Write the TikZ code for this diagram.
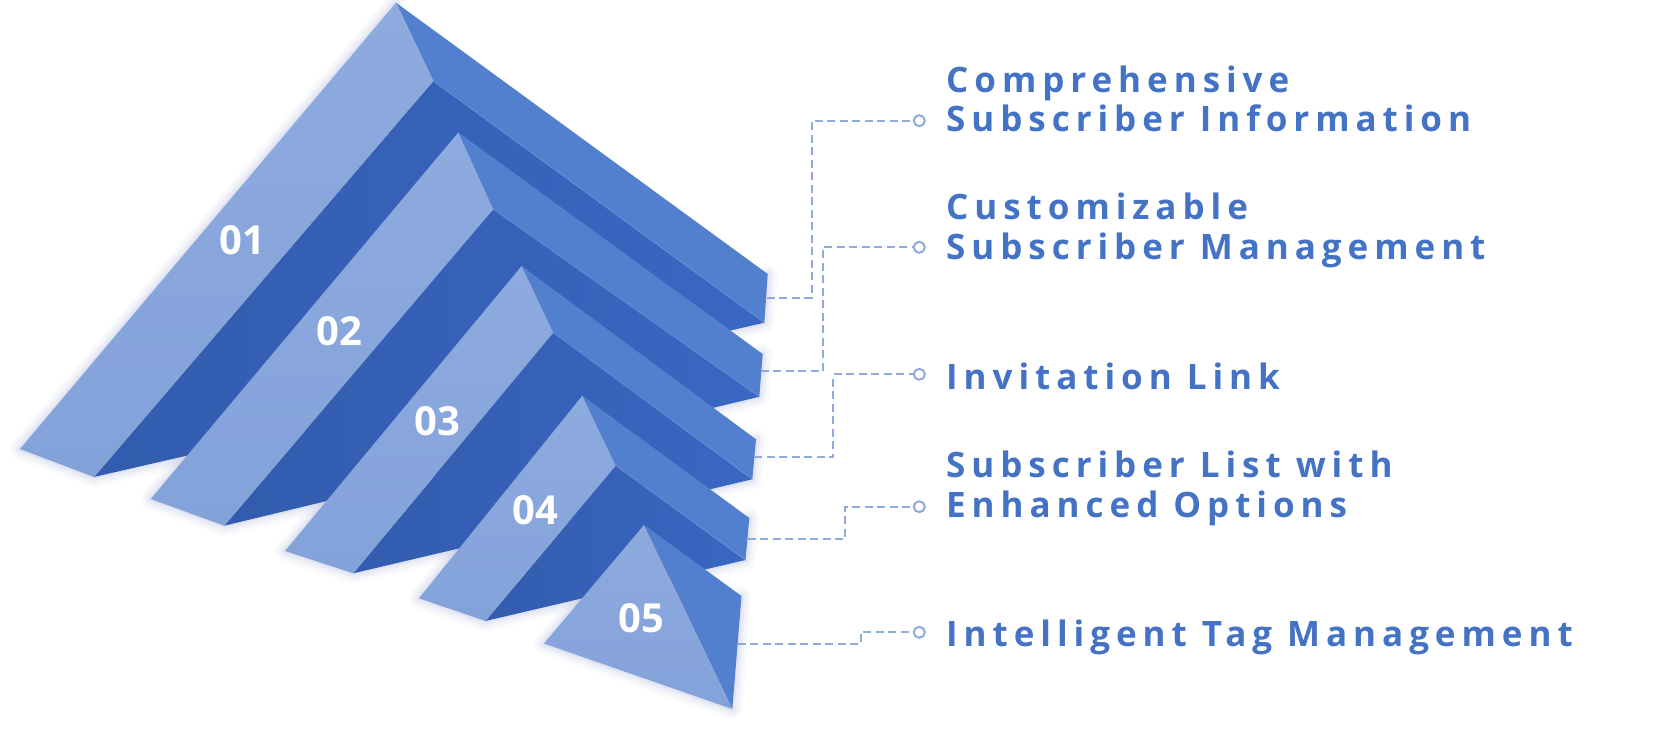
\documentclass[tikz,border=0pt]{standalone}
\usepackage{fontspec}
\setmainfont{Open Sans}
\newfontfamily\lblfont[LetterSpace=17]{Open Sans}
\newfontfamily\numfont{Open Sans}
\definecolor{lightT}{HTML}{8EABDF}
\definecolor{lightB}{HTML}{83A2DA}
\definecolor{medC}{HTML}{537FCF}
\definecolor{darkL}{HTML}{325CAE}
\definecolor{darkR}{HTML}{3A67C2}
\definecolor{edgeC}{HTML}{7396DA}
\definecolor{txtC}{HTML}{4472C4}
\definecolor{dashC}{HTML}{8FAADC}
\definecolor{shadowC}{HTML}{8E9FCC}
\tikzset{
  lightface/.style={top color=lightT, bottom color=lightB},
  medface/.style={fill=medC},
  darkface/.style={left color=darkL, right color=darkR},
  crease/.style={draw=edgeC, line width=0.7pt, opacity=0.7},
  conn/.style={draw=dashC, line width=2pt, dash pattern=on 8pt off 4.5pt},
  dot/.style={circle, draw=dashC, line width=2pt, fill=white, minimum size=11pt, inner sep=0pt},
  itemtext/.style={anchor=base west, inner sep=0pt, text=txtC, align=left,
    font=\lblfont\bfseries\fontsize{35}{39.5}\selectfont},
  numtext/.style={inner sep=0pt, text=white, font=\numfont\bfseries\fontsize{40}{40}\selectfont},
  shadowstroke/.style={draw=shadowC, line join=round, line cap=round}
}
\begin{document}
\begin{tikzpicture}[x=1pt,y=-1pt]
\useasboundingbox (0,0) rectangle (1673,730);
\fill[white] (0,0) rectangle (1673,730);

% ---------- key points ----------
\coordinate (A1) at (396,2.7);   \coordinate (P1) at (20,449);    \coordinate (Q1) at (94,477);
\coordinate (C1) at (433.3,81);  \coordinate (T1) at (767.7,274); \coordinate (B1) at (764.3,322.7);
\coordinate (A2) at (458.3,132.5); \coordinate (P2) at (150.7,499); \coordinate (Q2) at (224.3,525.7);
\coordinate (C2) at (493.3,209.3); \coordinate (T2) at (762.7,354); \coordinate (B2) at (759.3,396.7);
\coordinate (A3) at (521.7,266); \coordinate (P3) at (285,551);   \coordinate (Q3) at (353.3,573.3);
\coordinate (C3) at (553.3,332.7); \coordinate (T3) at (756,439.3); \coordinate (B3) at (752.3,479.3);
\coordinate (A4) at (582.3,395.7); \coordinate (P4) at (419,598.3); \coordinate (Q4) at (485.5,621);
\coordinate (C4) at (615.7,465.7); \coordinate (T4) at (749.3,518); \coordinate (B4) at (745.5,560);
\coordinate (A5) at (644,525);   \coordinate (P5) at (544,643.5); \coordinate (B5) at (732.3,709);
\coordinate (T5) at (741.5,596);

% ---------- soft shadows ----------
\begin{scope}[shift={(2,5)}]
  \foreach \w/\o in {20/0.05, 14/0.06, 9/0.08, 4/0.11} {
    \draw[shadowstroke, line width=\w pt, opacity=\o] (A1) -- (P1) -- (Q1) -- (B1) -- (T1);
    \draw[shadowstroke, line width=\w pt, opacity=\o] (A2) -- (P2) -- (Q2) -- (B2) -- (T2);
    \draw[shadowstroke, line width=\w pt, opacity=\o] (A3) -- (P3) -- (Q3) -- (B3) -- (T3);
    \draw[shadowstroke, line width=\w pt, opacity=\o] (A4) -- (P4) -- (Q4) -- (B4) -- (T4);
    \draw[shadowstroke, line width=\w pt, opacity=\o] (A5) -- (P5) -- (B5) -- (T5);
  }
\end{scope}

% ---------- chevrons 01 - 04 ----------
\foreach \k in {1,2,3,4} {
  \path[darkface] (Q\k) -- (C\k) -- (B\k) -- cycle;
  \path[medface] (A\k) -- (T\k) -- (B\k) -- (C\k) -- cycle;
  \draw[crease] (C\k) -- (B\k);
  \path[lightface] (A\k) -- (P\k) -- (Q\k) -- (C\k) -- cycle;
}
% ---------- chevron 05 ----------
\path[medface] (A5) -- (T5) -- (B5) -- cycle;
\path[lightface] (A5) -- (P5) -- (B5) -- cycle;

% ---------- numbers ----------
\node[numtext] (n1) at (242,240) {01};
\node[numtext] (n2) at (339.5,331) {02};
\node[numtext] (n3) at (437,421) {03};
\node[numtext] (n4) at (535,510) {04};
\node[numtext] (n5) at (641,618.3) {05};

% ---------- connectors ----------
\coordinate (s1) at (766.5,297.7);
\coordinate (s2) at (760.5,371);
\coordinate (s3) at (754,457.3);
\coordinate (s4) at (747.5,539.3);
\coordinate (s5) at (737.5,644);
\node[dot] (d1) at (919.3,120.7) {};
\node[dot] (d2) at (919.3,247.3) {};
\node[dot] (d3) at (919.3,374.3) {};
\node[dot] (d4) at (919.3,506.7) {};
\node[dot] (d5) at (919.3,632.3) {};
\draw[conn] (s1) -- (811.7,297.7) |- (d1.west);
\draw[conn] (s2) -- (822.7,371) |- (d2.west);
\draw[conn] (s3) -- (833.3,457.3) |- (d3.west);
\draw[conn] (s4) -- (845,539.3) |- (d4.west);
\draw[conn] (s5) -- (860.7,644) |- (d5.west);

% ---------- texts (base = baseline of last line) ----------
\node[itemtext] (t1) at (946,131.7) {Comprehensive\\Subscriber Information};
\node[itemtext] (t2) at (946,259) {Customizable\\Subscriber Management};
\node[itemtext] (t3) at (946,389.3) {Invitation Link};
\node[itemtext] (t4) at (946,517.3) {Subscriber List with\\Enhanced Options};
\node[itemtext] (t5) at (946,646) {Intelligent Tag Management};
\end{tikzpicture}
\end{document}
